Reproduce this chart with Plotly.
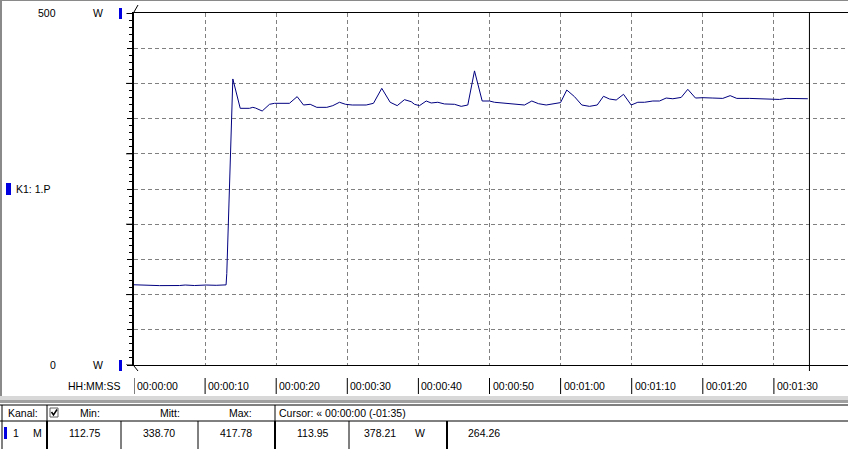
import plotly.graph_objects as go

# ---------------- data ----------------
time_s = [0, 3.6, 6.4, 7.2, 8.5, 9.45, 10.15, 11.56, 12.95, 13.05,
          13.90, 14.94, 16.24, 16.71, 17.09, 18.03, 19.06, 19.76, 21.86, 22.95,
          23.84, 24.78, 25.71, 27.12, 27.96, 28.90, 29.75, 30.69, 32.66, 33.68,
          34.85, 36.03, 37.02, 38.04, 38.99, 39.45, 40.15, 41.10, 41.80, 42.73,
          43.67, 45.08, 46.02, 46.95, 47.89, 48.97, 50.00, 50.70, 53.05, 54.92,
          55.95, 56.89, 57.97, 59.99, 60.87, 61.95, 62.98, 64.06, 65.15, 66.03,
          66.88, 67.82, 68.85, 69.93, 70.86, 71.80, 72.97, 73.91, 74.85, 75.78,
          76.96, 77.89, 78.97, 80.00, 81.41, 82.81, 83.85, 84.78, 86.57, 88.44,
          89.85, 90.79, 91.73, 92.66, 93.84, 94.77]
power_w = [113.95, 112.75, 112.9, 113.6, 112.9, 113.6, 113.6, 113.2, 113.8, 130.0,
           406.3, 364.6, 364.6, 366.0, 365.0, 360.8, 370.3, 371.7, 371.7, 381.2,
           369.3, 370.3, 366.0, 366.0, 368.4, 373.2, 370.3, 369.3, 369.3, 371.7,
           393.0, 373.2, 368.4, 376.9, 374.0, 370.3, 368.4, 375.0, 372.2, 373.2,
           370.8, 370.3, 367.4, 369.3, 417.78, 375.0, 375.0, 373.2, 371.2, 369.3,
           375.0, 371.2, 369.3, 372.7, 390.6, 381.2, 369.3, 367.4, 369.3, 381.7,
           377.8, 376.4, 384.5, 369.3, 373.2, 373.2, 375.0, 375.0, 379.2, 378.2,
           380.1, 391.6, 379.2, 379.7, 379.2, 378.7, 382.6, 378.7, 378.7, 378.2,
           378.2, 377.2, 378.7, 378.7, 378.2, 378.21]

x_tick_vals = [0, 10, 20, 30, 40, 50, 60, 70, 80, 90]
x_tick_text = ["00:00:00", "00:00:10", "00:00:20", "00:00:30", "00:00:40",
               "00:00:50", "00:01:00", "00:01:10", "00:01:20", "00:01:30"]
y_max_label = "500"
y_min_label = "0"
y_unit = "W"
channel_label = "K1: 1.P"
cursor_time = 95

table_header = ["Kanal:", "Min:", "Mitt:", "Max:", "Cursor: « 00:00:00 (-01:35)"]
table_row = ["1", "M", "112.75", "338.70", "417.78", "113.95", "378.21", "W", "264.26"]

# ---------------- layout geometry ----------------
W, H = 848, 449
L, R, T, B = 134, 0, 13, 84
PW, PH = W - L - R, H - T - B
X_MAX = PW / 71.1 * 10  # 71.1 px per 10 s

def px(x):
    return (x - L) / PW

def py(y):
    return (H - B - y) / PH

FONT = "Liberation Sans, Arial, sans-serif"
FS = 10.5
BLUE = "#0000e0"

fig = go.Figure()
fig.add_trace(go.Scatter(x=time_s, y=power_w, mode="lines",
                         line=dict(color="#000080", width=1), hoverinfo="skip"))

shapes = []
annots = []

def line(x0, y0, x1, y1, color="black", width=1):
    shapes.append(dict(type="line", xref="paper", yref="paper",
                       x0=px(x0), y0=py(y0), x1=px(x1), y1=py(y1),
                       line=dict(color=color, width=width)))

def rect(x0, y0, x1, y1, fill, color=None, width=0):
    shapes.append(dict(type="rect", xref="paper", yref="paper",
                       x0=px(x0), y0=py(y0), x1=px(x1), y1=py(y1),
                       fillcolor=fill, line=dict(color=color or fill, width=width)))

def text(x, y, s, anchor="left", size=FS, color="black"):
    annots.append(dict(xref="paper", yref="paper", x=px(x), y=py(y), text=s,
                       showarrow=False, xanchor=anchor, yanchor="middle",
                       font=dict(family=FONT, size=size, color=color)))

# window border
line(1, 0, 1, 400, color="#8a8a8a", width=2)
line(0, 0.5, W, 0.5, color="#8a8a8a", width=1)

# long ticks at every 100 W
for v in range(0, 501, 100):
    shapes.append(dict(type="line", xref="paper", yref="y", x0=px(126), x1=px(134),
                       y0=v, y1=v, line=dict(color="black", width=1)))

# corner marks
line(134, 12, 138, 5)
line(134, 366, 138, 371)

# cursor line
shapes.append(dict(type="line", xref="x", yref="paper", x0=cursor_time, x1=cursor_time,
                   y0=py(371), y1=1, line=dict(color="black", width=1)))

# y labels
text(58, 13, y_max_label, anchor="right")
text(91, 13, y_unit)
rect(119, 8, 122, 19, BLUE)
text(58, 365, y_min_label, anchor="right")
text(91, 365, y_unit)
rect(119, 360, 122, 371, BLUE)
rect(6, 183, 11, 195, BLUE)
text(14, 189, channel_label)

# x labels
text(123, 386, "HH:MM:SS", anchor="right")
for v, s in zip(x_tick_vals, x_tick_text):
    shapes.append(dict(type="line", xref="x", yref="paper", x0=v, x1=v,
                       y0=py(378), y1=py(394), line=dict(color="black", width=1)))
    annots.append(dict(xref="x", yref="paper", x=v, y=py(386), text=s, showarrow=False,
                       xanchor="left", yanchor="middle", xshift=1,
                       font=dict(family=FONT, size=FS, color="black")))

# separator between chart and table
rect(0, 396, W, 400, "#d8d8d8")
rect(0, 400, W, 403, "#a0a0a0")

# table grid
line(0, 405, W, 405)
line(0, 421, W, 421)
line(2, 405, 2, 449)
line(47, 405, 47, 421)
line(47, 421, 47, 449, width=2)
line(275, 405, 275, 421)
line(275, 421, 275, 449, width=2)
line(121, 421, 121, 449)
line(198, 421, 198, 449)
line(349, 421, 349, 449)
line(447, 421, 447, 449, width=2)

# checkbox
rect(50, 408, 58, 417, "white", color="#606060", width=1)
shapes.append(dict(type="path", xref="paper", yref="paper",
                   path=f"M {px(51.5)},{py(412)} L {px(53.5)},{py(415)} L {px(57)},{py(409.5)}",
                   line=dict(color="black", width=1.5)))

# header texts
text(6, 413, table_header[0])
text(90, 413, table_header[1], anchor="center")
text(170, 413, table_header[2], anchor="center")
text(254, 413, table_header[3], anchor="right")
text(277, 413, table_header[4])

# data row
rect(4, 427, 7, 439, BLUE)
text(11, 433, table_row[0])
text(44, 433, table_row[1], anchor="right")
text(84, 433, table_row[2], anchor="center")
text(159, 433, table_row[3], anchor="center")
text(236, 433, table_row[4], anchor="center")
text(312, 433, table_row[5], anchor="center")
text(398, 433, table_row[6], anchor="right")
text(413, 433, table_row[7])
text(466, 433, table_row[8])

fig.update_layout(
    width=W, height=H,
    margin=dict(l=L, r=R, t=T, b=B, autoexpand=False),
    paper_bgcolor="white", plot_bgcolor="white",
    showlegend=False, hovermode=False,
    shapes=shapes, annotations=annots,
    xaxis=dict(range=[0, X_MAX], tickvals=x_tick_vals, showticklabels=False,
               showgrid=True, gridcolor="#808080", gridwidth=1, griddash="4px,3px",
               zeroline=False, showline=True, linecolor="black", linewidth=1,
               mirror=True, ticks="", fixedrange=True),
    yaxis=dict(range=[0, 500], dtick=50, tick0=0, showticklabels=False,
               showgrid=True, gridcolor="#808080", gridwidth=1, griddash="4px,3px",
               zeroline=False, showline=True, linecolor="black", linewidth=2,
               ticks="outside", ticklen=5, tickcolor="black", tickwidth=1,
               minor=dict(dtick=10, ticks="outside", ticklen=3, tickcolor="black",
                          showgrid=False),
               fixedrange=True),
)

fig.write_html("out.html", config={"displayModeBar": False, "staticPlot": True},
               post_script="document.body.style.margin='0';document.body.style.overflow='hidden';")
